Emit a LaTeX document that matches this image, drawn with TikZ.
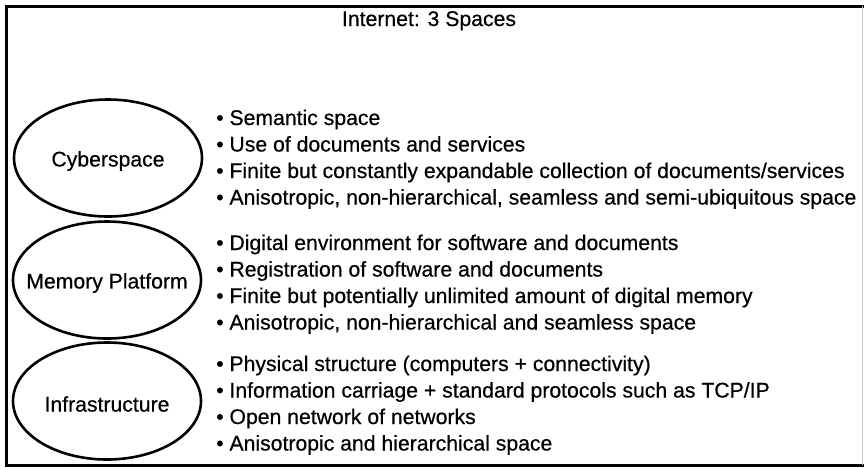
\documentclass[tikz,border=0pt]{standalone}
\usepackage{fontspec}
\setmainfont[FakeBold=0.5]{Liberation Sans}
\usetikzlibrary{shapes.geometric}
\begin{document}
\begin{tikzpicture}[x=1pt,y=-1pt,
  every node/.style={font=\fontsize{21.2}{25}\selectfont, inner sep=0pt},
  space/.style={draw, ellipse, line width=2.6pt, minimum width=188pt, minimum height=117pt},
  item/.style={anchor=base west},
  frame/.style={line width=3pt}]
\useasboundingbox (0,0) rectangle (864,467);
\coordinate (tl) at (6,6);
\coordinate (tr) at (864,6);
\coordinate (bl) at (6,465);
\coordinate (br) at (864,465);
\draw[frame, line cap=rect] (tr) -- (tl) -- (bl) -- (br);
\draw[gray!40, line width=0.6pt] (862.5,6) -- (862.5,465);
\node[anchor=base] (title) at (429,26) {Internet: 3 Spaces};
\node[space] (cyber) at (108,158) {};
\node (cyberl) at (108,161) {Cyberspace};
\node[space] (mem) at (107,280) {};
\node (meml) at (107,283) {Memory Platform};
\node[space] (infra) at (107,401) {};
\node (infral) at (107,404) {Infrastructure};
\node[item] (c1) at (216,125) {• Semantic space};
\node[item] (c2) at (216,151.5) {• Use of documents and services};
\node[item] (c3) at (216,178) {• Finite but constantly expandable collection of documents/services};
\node[item] (c4) at (216,204.5) {• Anisotropic, non-hierarchical, seamless and semi-ubiquitous space};
\node[item] (m1) at (216,250) {• Digital environment for software and documents};
\node[item] (m2) at (216,276.5) {• Registration of software and documents};
\node[item] (m3) at (216,303) {• Finite but potentially unlimited amount of digital memory};
\node[item] (m4) at (216,329.5) {• Anisotropic, non-hierarchical and seamless space};
\node[item] (i1) at (216,371) {• Physical structure (computers + connectivity)};
\node[item] (i2) at (216,397.5) {• Information carriage + standard protocols such as TCP/IP};
\node[item] (i3) at (216,424) {• Open network of networks};
\node[item] (i4) at (216,450.5) {• Anisotropic and hierarchical space};
\end{tikzpicture}
\end{document}
